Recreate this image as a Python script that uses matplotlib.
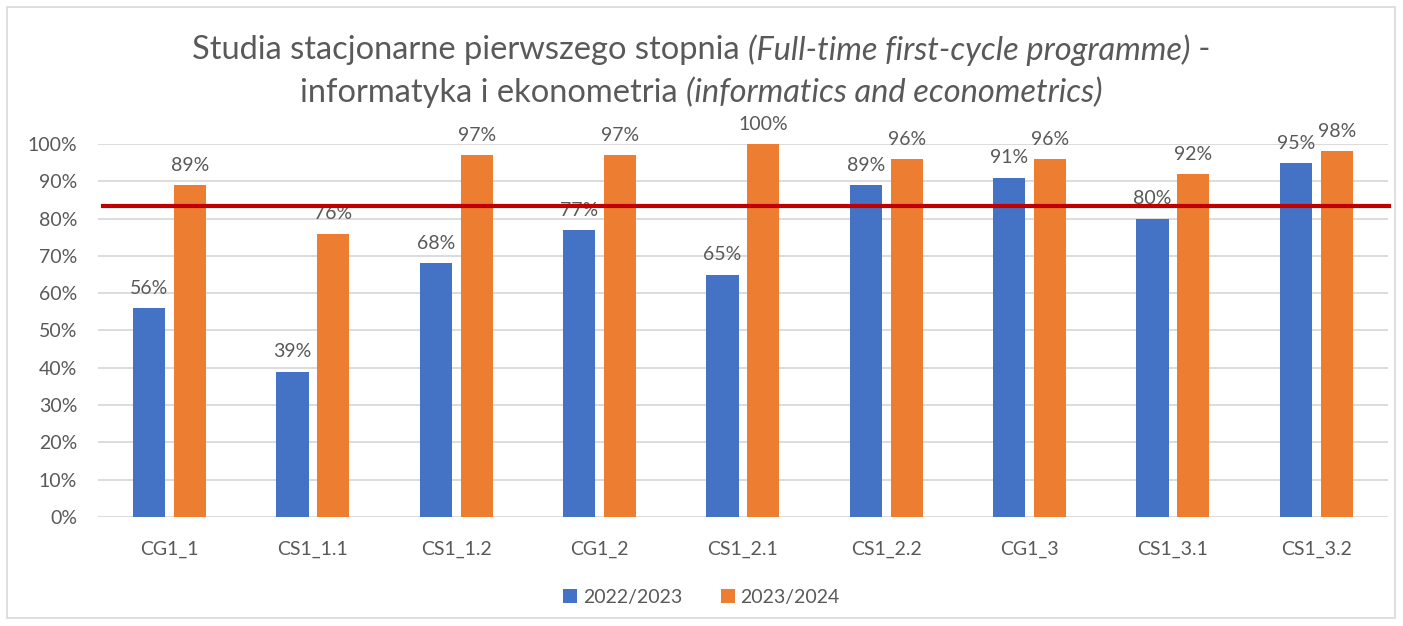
import numpy as np
import matplotlib
matplotlib.use("Agg")
import matplotlib.pyplot as plt
from matplotlib.patches import Rectangle
from matplotlib.ticker import PercentFormatter

# data
categories = ["CG1_1", "CS1_1.1", "CS1_1.2", "CG1_2", "CS1_2.1",
              "CS1_2.2", "CG1_3", "CS1_3.1", "CS1_3.2"]
y2022 = [56, 39, 68, 77, 65, 89, 91, 80, 95]
y2023 = [89, 76, 97, 97, 100, 96, 96, 92, 98]
series_names = ["2022/2023", "2023/2024"]
threshold = 83.5

plt.rcParams["font.family"] = ["Lato", "DejaVu Sans"]
txt = "#595959"
blue = "#4472C4"
orange = "#ED7D31"

fig = plt.figure(figsize=(14.03, 6.26), dpi=100)
ax = fig.add_axes([0.0698, 0.1741, 0.9195, 0.5959])

x = np.arange(len(categories))
w = 0.225
off = 0.142
b1 = ax.bar(x - off, y2022, w, color=blue, label=series_names[0], zorder=2)
b2 = ax.bar(x + off, y2023, w, color=orange, label=series_names[1], zorder=2)

for bars, vals in ((b1, y2022), (b2, y2023)):
    for r, v in zip(bars, vals):
        ax.annotate(f"{v}%", (r.get_x() + r.get_width() / 2, v),
                    xytext=(0, 8), textcoords="offset points",
                    ha="center", va="bottom", fontsize=14, color=txt,
                    zorder=3)

ax.axhline(threshold, xmin=0.004, xmax=1.001, color="#C00000", lw=3,
           zorder=4, clip_on=False)

ax.set_xlim(-0.5, len(categories) - 0.5)
ax.set_ylim(0, 100)
ax.set_yticks(np.arange(0, 101, 10))
ax.yaxis.set_major_formatter(PercentFormatter(decimals=0))
ax.set_xticks(x)
ax.set_xticklabels(categories)
ax.tick_params(axis="both", length=0, labelsize=14, labelcolor=txt)
ax.tick_params(axis="y", pad=15)
ax.tick_params(axis="x", pad=17)
ax.grid(axis="y", color="#d9d9d9", lw=1.3, zorder=0)
for s in ax.spines.values():
    s.set_visible(False)

leg = fig.legend(loc="center", bbox_to_anchor=(0.5, 0.046), ncol=2,
                 frameon=False, fontsize=14, handlelength=0.7,
                 handleheight=0.7, columnspacing=2.0, handletextpad=0.3)
for t in leg.get_texts():
    t.set_color(txt)

# outer chart border
fig.patches.append(Rectangle((0.005, 0.012), 0.989, 0.977, transform=fig.transFigure,
                             fill=False, ec="#d9d9d9", lw=1.2))

# title with italic pieces, centred line by line
lines = [
    [("Studia stacjonarne pierwszego stopnia ", "normal"),
     ("(Full-time first-cycle programme)", "italic"), (" -", "normal")],
    [("informatyka i ekonometria ", "normal"),
     ("(informatics and econometrics)", "italic")],
]
line_y = [0.92, 0.851]
fig.canvas.draw()
r = fig.canvas.get_renderer()
for parts, yy in zip(lines, line_y):
    arts = [fig.text(0, yy, s, fontsize=23.5, style=st, color=txt, va="center")
            for s, st in parts]
    widths = [a.get_window_extent(r).width / fig.bbox.width for a in arts]
    xx = 0.5 - sum(widths) / 2
    for a, wd in zip(arts, widths):
        a.set_x(xx)
        xx += wd

fig.savefig("out.png", dpi=100)
